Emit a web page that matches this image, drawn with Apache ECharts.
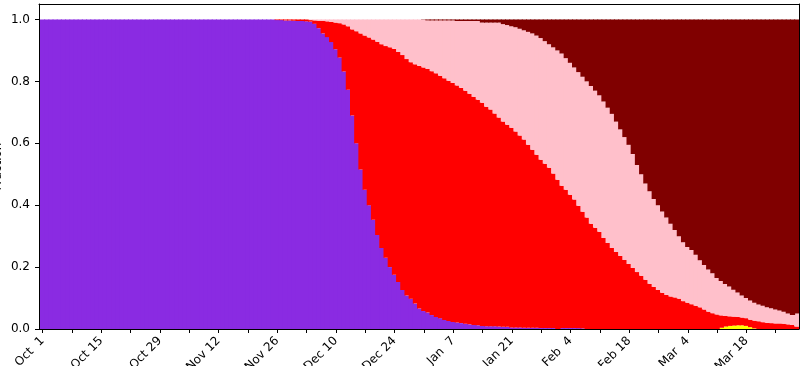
<!DOCTYPE html>
<html>
<head>
<meta charset="utf-8">
<script src="https://cdn.jsdelivr.net/npm/echarts@6/dist/echarts.min.js"></script>
<style>
  html, body { margin: 0; padding: 0; background: #ffffff; }
  #chart { width: 801px; height: 366px; }
</style>
</head>
<body>
<div id="chart"></div>
<script>
// Daily share of each group, Oct 1 .. Mar 30 (181 days), rows of 20 days.
const DAY_MS = 86400000;
const startDate = Date.UTC(2020, 9, 1);
const dayCount = 181;
const monthNames = ['Jan', 'Feb', 'Mar', 'Apr', 'May', 'Jun', 'Jul', 'Aug', 'Sep', 'Oct', 'Nov', 'Dec'];

const shareYellow = [
  0,0,0,0,0,0,0,0,0,0,0,0,0,0,0,0,0,0,0,0,
  0,0,0,0,0,0,0,0,0,0,0,0,0,0,0,0,0,0,0,0,
  0,0,0,0,0,0,0,0,0,0,0,0,0,0,0,0,0,0,0,0,
  0,0,0,0,0,0,0,0,0,0,0,0,0,0,0,0,0,0,0,0,
  0,0,0,0,0,0,0,0,0,0,0,0,0,0,0,0,0,0,0,0,
  0,0,0,0,0,0,0,0,0,0,0,0,0,0,0,0,0,0,0,0,
  0,0,0,0,0,0,0,0,0,0,0,0,0,0,0,0,0,0,0,0,
  0,0,0,0,0,0,0,0,0,0,0,0,0,0,0,0,0,0,0,0,
  0,0,.004,.008,.010,.011,.012,.012,.010,.006,.002,0,0,0,0,0,0,0,0,0,0
];

const shareViolet = [
  1,1,1,1,1,1,1,1,1,1,1,1,1,1,1,1,1,1,1,1,
  1,1,1,1,1,1,1,1,1,1,1,1,1,1,1,1,1,1,1,1,
  1,1,1,1,1,1,1,1,1,1,1,1,1,1,1,1,.998,.998,.997,.997,
  .996,.995,.995,.994,.993,.986,.972,.955,.943,.927,.904,.877,.832,.773,.690,.600,.515,.450,.400,.353,
  .304,.262,.230,.200,.175,.152,.126,.108,.098,.082,.066,.058,.053,.045,.039,.035,.029,.026,.023,.021,
  .019,.017,.015,.013,.012,.010,.009,.009,.009,.008,.007,.007,.005,.005,.005,.004,.004,.004,.004,.003,
  .003,.003,.003,0,.003,.003,.003,.003,.003,.002,0,0,0,0,0,0,0,0,0,0,
  0,0,0,0,0,0,0,0,0,0,0,0,0,0,0,0,0,0,0,0,
  0,0,0,0,0,0,0,0,0,0,0,0,0,0,0,0,0,0,0,0,0
];

const shareRed = [
  0,0,0,0,0,0,0,0,0,0,0,0,0,0,0,0,0,0,0,0,
  0,0,0,0,0,0,0,0,0,0,0,0,0,0,0,0,0,0,0,0,
  0,0,0,0,0,0,0,0,0,0,0,0,0,0,0,0,.002,.002,.003,.003,
  .004,.005,.005,.006,.005,.011,.024,.040,.051,.065,.086,.111,.152,.205,.278,.362,.440,.498,.542,.582,
  .624,.658,.684,.710,.730,.743,.759,.764,.764,.773,.784,.787,.787,.788,.787,.783,.781,.776,.772,.766,
  .760,.753,.745,.737,.729,.721,.709,.700,.687,.675,.663,.653,.645,.633,.620,.608,.591,.575,.559,.544,
  .531,.518,.499,.482,.460,.447,.431,.415,.395,.377,.360,.340,.327,.314,.294,.278,.262,.249,.236,.223,
  .210,.197,.184,.172,.159,.146,.136,.126,.117,.110,.105,.102,.098,.090,.085,.080,.075,.070,.063,.056,
  .051,.047,.040,.034,.031,.029,.027,.025,.025,.024,.025,.025,.022,.020,.019,.018,.018,.017,.015,.013,.008
];

const sharePink = [
  0,0,0,0,0,0,0,0,0,0,0,0,0,0,0,0,0,0,0,0,
  0,0,0,0,0,0,0,0,0,0,0,0,0,0,0,0,0,0,0,0,
  0,0,0,0,0,0,0,0,0,0,0,0,0,0,0,0,0,0,0,0,
  0,0,0,0,.002,.003,.004,.005,.006,.008,.010,.012,.016,.022,.032,.038,.045,.052,.058,.065,
  .072,.080,.086,.090,.095,.105,.115,.128,.138,.145,.150,.154,.157,.164,.171,.179,.187,.195,.202,.208,
  .216,.225,.235,.245,.254,.259,.272,.281,.294,.307,.315,.322,.328,.337,.345,.353,.365,.376,.385,.393,
  .396,.399,.408,.418,.427,.425,.426,.427,.432,.436,.440,.445,.443,.441,.441,.437,.433,.421,.409,.397,
  .385,.368,.346,.328,.311,.299,.284,.274,.263,.250,.235,.218,.202,.190,.180,.175,.165,.152,.144,.136,
  .129,.118,.111,.103,.096,.087,.079,.071,.065,.062,.058,.054,.053,.050,.048,.045,.042,.039,.035,.032,.042
];

const shareMaroon = [
  0,0,0,0,0,0,0,0,0,0,0,0,0,0,0,0,0,0,0,0,
  0,0,0,0,0,0,0,0,0,0,0,0,0,0,0,0,0,0,0,0,
  0,0,0,0,0,0,0,0,0,0,0,0,0,0,0,0,0,0,0,0,
  0,0,0,0,0,0,0,0,0,0,0,0,0,0,0,0,0,0,0,0,
  0,0,0,0,0,0,0,0,0,0,0,.001,.003,.003,.003,.003,.003,.003,.003,.005,
  .005,.005,.005,.005,.005,.010,.010,.010,.010,.010,.015,.018,.022,.025,.030,.035,.040,.045,.052,.060,
  .070,.080,.090,.100,.110,.125,.140,.155,.170,.185,.200,.215,.230,.245,.265,.285,.305,.330,.355,.380,
  .405,.435,.470,.500,.530,.555,.580,.600,.620,.640,.660,.680,.700,.720,.735,.745,.760,.778,.793,.808,
  .820,.835,.845,.855,.863,.873,.882,.892,.900,.908,.915,.921,.925,.930,.933,.937,.940,.944,.950,.955,.950
];

// Day offsets (from Oct 1) carrying weekly ticks and fortnightly labels
const tickDays = [0,7,14,21,28,35,42,49,56,63,70,77,84,91,98,105,112,119,126,133,140,147,154,161,168,175];
const labelDays = [0,14,28,42,56,70,84,98,112,126,140,154,168];
const yTickValues = [0, 0.2, 0.4, 0.6, 0.8, 1.0];

const dayLabel = (i) => {
  const d = new Date(startDate + Math.round(i) * DAY_MS);
  return monthNames[d.getUTCMonth()] + ' ' + String(d.getUTCDate()).padStart(2, ' ');
};

const layers = [
  { name: 'yellow', values: shareYellow, color: '#ffff00' },
  { name: 'violet', values: shareViolet, color: '#8a2be2' },
  { name: 'red', values: shareRed, color: '#ff0000' },
  { name: 'pink', values: sharePink, color: '#ffc0cb' },
  { name: 'maroon', values: shareMaroon, color: '#800000' }
];

const xMin = -0.85;
const xMax = 180.55;
const font = 'DejaVu Sans';
const chart = echarts.init(document.getElementById('chart'), null, { renderer: 'canvas' });

chart.setOption({
  animation: false,
  backgroundColor: '#ffffff',
  grid: { left: 39, right: 2, top: 4, bottom: 37, containLabel: false, outerBoundsMode: 'none' },
  xAxis: [
    {
      type: 'value',
      min: xMin,
      max: xMax,
      z: 10,
      axisLine: { show: true, onZero: false, lineStyle: { color: '#000', width: 1 } },
      axisTick: { show: true, customValues: tickDays, length: 4, lineStyle: { color: '#000', width: 1 } },
      axisLabel: {
        customValues: labelDays,
        formatter: (v) => dayLabel(v),
        rotate: 45,
        margin: 10,
        fontFamily: font,
        fontSize: 12,
        color: '#000'
      },
      splitLine: { show: false }
    },
    {
      type: 'value',
      position: 'top',
      min: xMin,
      max: xMax,
      z: 10,
      axisLine: { show: true, onZero: false, lineStyle: { color: '#000', width: 1 } },
      axisTick: { show: false },
      axisLabel: { show: false },
      splitLine: { show: false }
    }
  ],
  yAxis: [
    {
      type: 'value',
      min: 0,
      max: 1.05,
      interval: 0.2,
      z: 10,
      name: 'Fraction',
      nameLocation: 'middle',
      nameGap: 35,
      nameMoveOverlap: false,
      nameTextStyle: { fontFamily: font, fontSize: 12, color: '#000' },
      axisLine: { show: true, onZero: false, lineStyle: { color: '#000', width: 1 } },
      axisTick: { show: true, customValues: yTickValues, length: 4, lineStyle: { color: '#000', width: 1 } },
      axisLabel: {
        customValues: yTickValues,
        formatter: (v) => (v > 1.001 ? '' : v.toFixed(1)),
        margin: 9,
        fontFamily: font,
        fontSize: 12,
        color: '#000'
      },
      splitLine: { show: false }
    },
    {
      type: 'value',
      position: 'right',
      min: 0,
      max: 1.05,
      z: 10,
      axisLine: { show: true, onZero: false, lineStyle: { color: '#000', width: 1 } },
      axisTick: { show: false },
      axisLabel: { show: false },
      splitLine: { show: false }
    }
  ],
  // The share comes first in each row so that it is the stacked dimension.
  // Bars are a little wider than a day so neighbouring days leave no seam.
  series: layers.map((layer) => ({
    type: 'bar',
    name: layer.name,
    stack: 'share',
    xAxisIndex: 0,
    yAxisIndex: 0,
    data: layer.values.map((v, i) => [v, i]),
    encode: { x: 1, y: 0 },
    barWidth: '125%',
    silent: true,
    itemStyle: { color: layer.color }
  }))
});
</script>
</body>
</html>
